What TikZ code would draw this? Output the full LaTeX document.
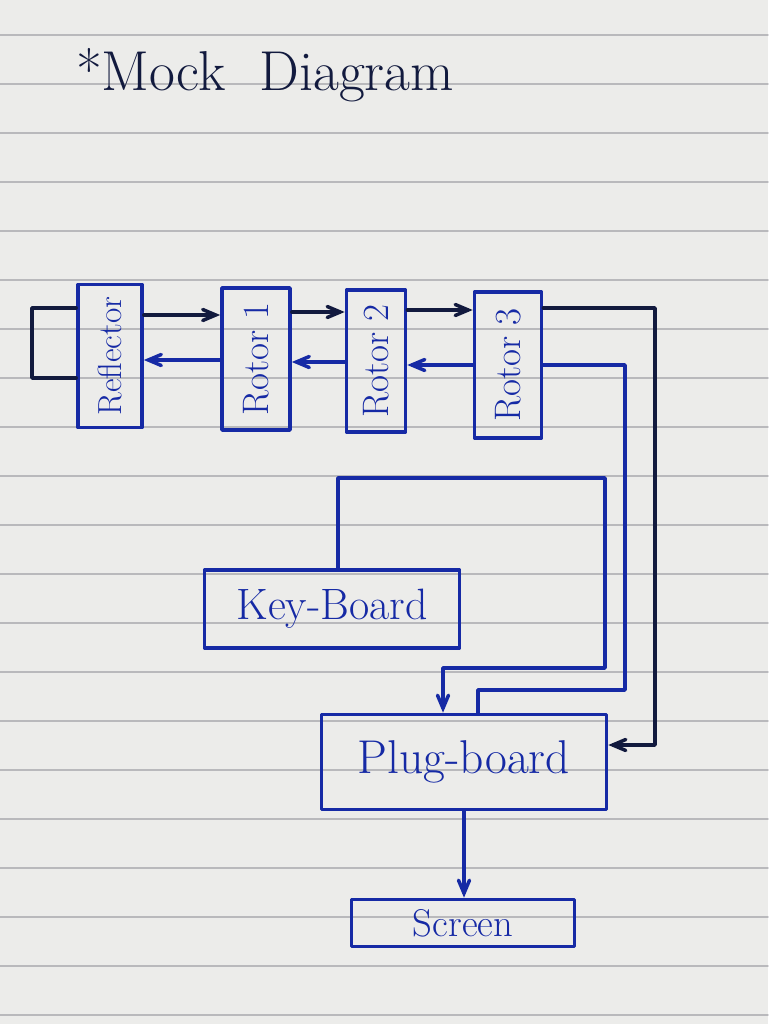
\documentclass[tikz,border=0pt]{standalone}
\usepackage{graphicx}
\usepackage{tikz}
\usetikzlibrary{arrows}

\definecolor{paper}{RGB}{236,236,234}
\definecolor{rule}{RGB}{185,185,188}
\definecolor{blueink}{RGB}{22,42,165}
\definecolor{darkink}{RGB}{18,26,62}

\begin{document}
\begin{tikzpicture}[line cap=round,line join=round,>=angle 45,x=0.02cm,y=-0.02cm,
		inkbox/.style={draw=blueink,line width=2.1pt,text=blueink,inner sep=0pt},
		bluewire/.style={draw=blueink,line width=2pt},
		darkwire/.style={draw=darkink,line width=2pt}]
		% paper
		\fill[paper] (0,0) rectangle (768,1024);
		\useasboundingbox (0,0) rectangle (768,1024);
		\foreach \k in {0,...,20}
			\draw[rule,line width=0.8pt] (0,{35+49*\k}) -- (768,{35+49*\k});

		\node[text=darkink,font=\fontsize{32}{36}\selectfont] (title) at (265,75) {*Mock\ \ Diagram};

		\node[inkbox,minimum width=1.28cm,minimum height=2.86cm,font=\fontsize{19}{21}\selectfont] (refl) at (110,356) {\rotatebox{90}{Reflector}};
		\node[inkbox,minimum width=1.36cm,minimum height=2.84cm,font=\fontsize{21}{23}\selectfont] (rot1) at (256,359) {\rotatebox{90}{Rotor 1}};
		\node[inkbox,minimum width=1.18cm,minimum height=2.84cm,font=\fontsize{21}{23}\selectfont] (rot2) at (376,361) {\rotatebox{90}{Rotor 2}};
		\node[inkbox,minimum width=1.34cm,minimum height=2.92cm,font=\fontsize{21}{23}\selectfont] (rot3) at (508,365) {\rotatebox{90}{Rotor 3}};

		\node[inkbox,minimum width=5.1cm,minimum height=1.56cm,font=\fontsize{25}{29}\selectfont] (keyb) at (332,609) {Key-Board};
		\node[inkbox,minimum width=5.7cm,minimum height=1.9cm,font=\fontsize{27}{31}\selectfont] (plug) at (464,762) {Plug-board};
		\node[inkbox,minimum width=4.46cm,minimum height=0.94cm,font=\fontsize{22}{24}\selectfont] (scrn) at (463,923) {Screen};

		% forward path
		\draw[darkwire] (refl.west |- 0,308) -- (32,308) -- (32,378) -- (refl.west |- 0,378);
		\draw[darkwire,->] (refl.east |- 0,315) -- (rot1.west |- 0,315);
		\draw[darkwire,->] (rot1.east |- 0,312) -- (rot2.west |- 0,312);
		\draw[darkwire,->] (rot2.east |- 0,310) -- (rot3.west |- 0,310);
		\draw[darkwire,->] (rot3.east |- 0,308) -| (655,745) -- (plug.east |- 0,745);

		% return path
		\draw[bluewire,->] (rot3.west |- 0,365) -- (rot2.east |- 0,365);
		\draw[bluewire,->] (rot2.west |- 0,362) -- (rot1.east |- 0,362);
		\draw[bluewire,->] (rot1.west |- 0,360) -- (refl.east |- 0,360);
		\draw[bluewire] (rot3.east |- 0,365) -| (625,690) -| (plug.north -| 478,0);

		\draw[bluewire,->] (keyb.north -| 338,0) |- (605,478) |- (443,668) -- (plug.north -| 443,0);
		\draw[bluewire,->] (plug.south) -- (plug.south |- scrn.north);
	\end{tikzpicture}
\end{document}
